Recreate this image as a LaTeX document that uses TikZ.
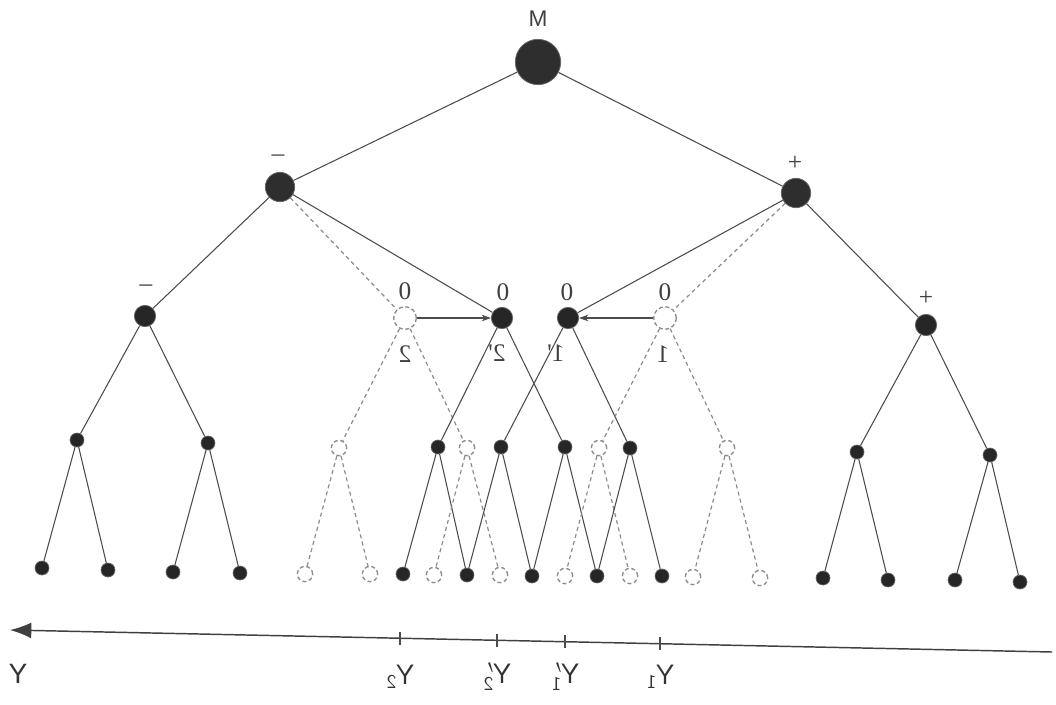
\documentclass[tikz,border=0pt]{standalone}
\usepackage{fontspec}
\setmainfont{Liberation Sans}
\newfontfamily\numfont{Liberation Serif}
\usepackage{graphicx}
\usetikzlibrary{arrows.meta}
\newcommand{\mir}[1]{\reflectbox{#1}}
\begin{document}
\begin{tikzpicture}[x=0.75pt,y=-0.75pt,
  root/.style={circle,inner sep=0pt,minimum size=34pt,fill=black!82,draw=black!60,line width=0.6pt},
  lone/.style={circle,inner sep=0pt,minimum size=22pt,fill=black!82,draw=black!60,line width=0.6pt},
  ltwo/.style={circle,inner sep=0pt,minimum size=16pt,fill=black!85,draw=black!60,line width=0.6pt},
  leaf/.style={circle,inner sep=0pt,minimum size=10.5pt,fill=black!85,draw=black!60,line width=0.5pt},
  dtwo/.style={circle,inner sep=0pt,minimum size=17pt,fill=white,draw=black!45,densely dashed,line width=1pt},
  dleaf/.style={circle,inner sep=0pt,minimum size=11.5pt,fill=white,draw=black!45,densely dashed,line width=1pt},
  sol/.style={draw=black!70,line width=0.8pt},
  dsh/.style={draw=black!45,dash pattern=on 3pt off 2.5pt,line width=0.9pt},
  lab/.style={font=\numfont\fontsize{19}{21}\selectfont,text=black!75,inner sep=0pt},
  mlab/.style={font=\fontsize{17}{19}\selectfont,text=black!75,inner sep=0pt},
  ylab/.style={font=\fontsize{21}{23}\selectfont,text=black!80,inner sep=0pt}]
\useasboundingbox (0,0) rectangle (1056,704);
% nodes
\node[root] (M) at (538,62) {};
\node[lone] (L) at (280,187) {};
\node[lone] (R) at (796,193) {};
\node[ltwo] (LL) at (145,316) {};
\node[dtwo] (D2) at (405,318) {};
\node[ltwo] (F2) at (502,318) {};
\node[ltwo] (F1) at (568,318) {};
\node[dtwo] (D1) at (665,318) {};
\node[ltwo] (RR) at (926,325) {};
% level 3
\node[leaf] (a1) at (77,440) {};
\node[leaf] (a2) at (208,443) {};
\node[dleaf] (b1) at (339,448) {};
\node[leaf] (c1) at (438,447) {};
\node[dleaf] (b2) at (467,448) {};
\node[leaf] (c2) at (501,447) {};
\node[leaf] (c3) at (565,447) {};
\node[dleaf] (b3) at (599,448) {};
\node[leaf] (c4) at (630,448) {};
\node[dleaf] (b4) at (727,448) {};
\node[leaf] (e1) at (857,452) {};
\node[leaf] (e2) at (990,455) {};
% level 4
\node[leaf] (f1) at (42,568) {};
\node[leaf] (f2) at (108,570) {};
\node[leaf] (f3) at (173,572) {};
\node[leaf] (f4) at (240,573) {};
\node[dleaf] (g1) at (305,574) {};
\node[dleaf] (g2) at (370,574) {};
\node[leaf] (h1) at (403,574) {};
\node[dleaf] (g3) at (434,575) {};
\node[leaf] (h2) at (467,575) {};
\node[dleaf] (g4) at (500,575) {};
\node[leaf] (h3) at (532,576) {};
\node[dleaf] (g5) at (565,576) {};
\node[leaf] (h4) at (597,576) {};
\node[dleaf] (g6) at (630,576) {};
\node[leaf] (h5) at (662,576) {};
\node[dleaf] (g7) at (693,577) {};
\node[dleaf] (g8) at (760,578) {};
\node[leaf] (k1) at (823,578) {};
\node[leaf] (k2) at (888,580) {};
\node[leaf] (k3) at (955,580) {};
\node[leaf] (k4) at (1020,582) {};
% edges
\draw[sol] (M) -- (L);
\draw[sol] (M) -- (R);
\draw[sol] (L) -- (LL);
\draw[dsh] (L) -- (D2);
\draw[sol] (L) -- (F2);
\draw[sol] (R) -- (F1);
\draw[dsh] (R) -- (D1);
\draw[sol] (R) -- (RR);
\draw[sol] (LL) -- (a1); \draw[sol] (LL) -- (a2);
\draw[dsh] (D2) -- (b1); \draw[dsh] (D2) -- (b2);
\draw[sol] (F2) -- (c1); \draw[sol] (F2) -- (c3);
\draw[sol] (F1) -- (c2); \draw[sol] (F1) -- (c4);
\draw[dsh] (D1) -- (b3); \draw[dsh] (D1) -- (b4);
\draw[sol] (RR) -- (e1); \draw[sol] (RR) -- (e2);
\draw[sol] (a1) -- (f1); \draw[sol] (a1) -- (f2);
\draw[sol] (a2) -- (f3); \draw[sol] (a2) -- (f4);
\draw[dsh] (b1) -- (g1); \draw[dsh] (b1) -- (g2);
\draw[sol] (c1) -- (h1); \draw[sol] (c1) -- (h2);
\draw[dsh] (b2) -- (g3); \draw[dsh] (b2) -- (g4);
\draw[sol] (c2) -- (h2); \draw[sol] (c2) -- (h3);
\draw[sol] (c3) -- (h3); \draw[sol] (c3) -- (h4);
\draw[dsh] (b3) -- (g5); \draw[dsh] (b3) -- (g6);
\draw[sol] (c4) -- (h4); \draw[sol] (c4) -- (h5);
\draw[dsh] (b4) -- (g7); \draw[dsh] (b4) -- (g8);
\draw[sol] (e1) -- (k1); \draw[sol] (e1) -- (k2);
\draw[sol] (e2) -- (k3); \draw[sol] (e2) -- (k4);
% shift arrows
\draw[draw=black!70,line width=0.8pt,-{Stealth[length=7pt,width=5pt]}] (D2) -- (F2);
\draw[draw=black!70,line width=0.8pt,-{Stealth[length=7pt,width=5pt]}] (D1) -- (F1);
% labels
\node[mlab] (tM) at (538,19) {M};
\node[lab] (tL) at (278,158) {\mir{–}};
\node[lab] (tR) at (795,163) {+};
\node[lab] (tLL) at (146,288) {–};
\node[lab] (tD2) at (405,291) {0};
\node[lab] (tF2) at (503,292) {0};
\node[lab] (tF1) at (567,292) {0};
\node[lab] (tD1) at (665,292) {0};
\node[lab] (tRR) at (926,298) {+};
\node[lab] (n2) at (405,354) {\mir{2}};
\node[lab] (n2p) at (497,353) {\mir{2'}};
\node[lab] (n1p) at (556,353) {\mir{1'}};
\node[lab] (n1) at (663,354) {\mir{1}};
% axis
\coordinate (axR) at (1052,652);
\coordinate (axL) at (10,630);
\draw[draw=black!75,line width=1.1pt,-{Latex[length=16pt,width=12pt]}] (axR) -- (axL);
\coordinate (t2) at (400,638.2);
\coordinate (t2p) at (497,640.3);
\coordinate (t1p) at (565,641.7);
\coordinate (t1) at (660,643.7);
\foreach \t in {t2,t2p,t1p,t1} \draw[draw=black!70,line width=0.8pt] ([yshift=5pt]\t) -- ([yshift=-5pt]\t);
\node[ylab] (yY) at (18,674) {\mir{Y}};
\node[ylab] (yY2) at (400,677) {\mir{$\mathsf{Y}_{\mathsf{2}}$}};
\node[ylab] (yY2p) at (497,677) {\mir{$\mathsf{Y}'_{\mathsf{2}}$}};
\node[ylab] (yY1p) at (565,677) {\mir{$\mathsf{Y}'_{\mathsf{1}}$}};
\node[ylab] (yY1) at (660,677) {\mir{$\mathsf{Y}_{\mathsf{1}}$}};
\end{tikzpicture}
\end{document}
